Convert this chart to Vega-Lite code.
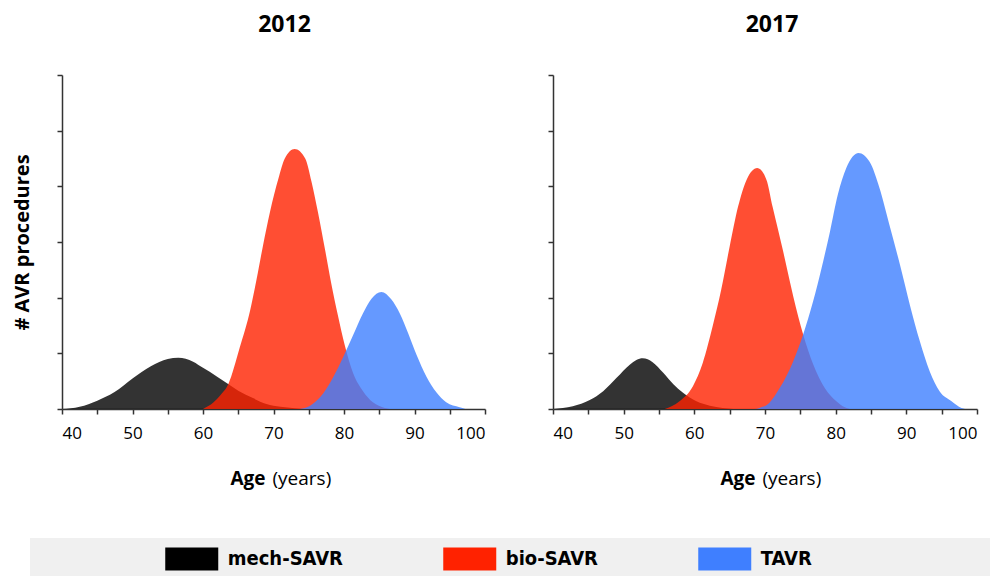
{
"$schema": "https://vega.github.io/schema/vega-lite/v6.json",
"background": "white",
"padding": {"left": 12, "top": 14, "right": 0, "bottom": 0},
"bounds": "flush",
"spacing": 68,
"config": {"view": {"stroke": null}, "font": "Open Sans", "axis": {"labelFont": "Open Sans", "titleFont": "Open Sans", "labelColor": "#000", "titleColor": "#000", "grid": false}},
"data": {"values": [
{"year":"2012","type":"mech-SAVR","age":40,"count":0},
{"year":"2012","type":"mech-SAVR","age":42.5,"count":0.04},
{"year":"2012","type":"mech-SAVR","age":45,"count":0.15},
{"year":"2012","type":"mech-SAVR","age":47.4,"count":0.3},
{"year":"2012","type":"mech-SAVR","age":50,"count":0.55},
{"year":"2012","type":"mech-SAVR","age":52.6,"count":0.77},
{"year":"2012","type":"mech-SAVR","age":55,"count":0.9},
{"year":"2012","type":"mech-SAVR","age":56.5,"count":0.92},
{"year":"2012","type":"mech-SAVR","age":58.6,"count":0.85},
{"year":"2012","type":"mech-SAVR","age":60,"count":0.74},
{"year":"2012","type":"mech-SAVR","age":61.9,"count":0.59},
{"year":"2012","type":"mech-SAVR","age":63.3,"count":0.47},
{"year":"2012","type":"mech-SAVR","age":65,"count":0.33},
{"year":"2012","type":"mech-SAVR","age":67,"count":0.2},
{"year":"2012","type":"mech-SAVR","age":69,"count":0.09},
{"year":"2012","type":"mech-SAVR","age":71,"count":0.04},
{"year":"2012","type":"mech-SAVR","age":73,"count":0.015},
{"year":"2012","type":"mech-SAVR","age":74.5,"count":0},
{"year":"2012","type":"bio-SAVR","age":60,"count":0},
{"year":"2012","type":"bio-SAVR","age":61.5,"count":0.12},
{"year":"2012","type":"bio-SAVR","age":62.4,"count":0.24},
{"year":"2012","type":"bio-SAVR","age":63.6,"count":0.45},
{"year":"2012","type":"bio-SAVR","age":65.2,"count":1.1},
{"year":"2012","type":"bio-SAVR","age":66.7,"count":1.78},
{"year":"2012","type":"bio-SAVR","age":67.6,"count":2.33},
{"year":"2012","type":"bio-SAVR","age":68.5,"count":2.93},
{"year":"2012","type":"bio-SAVR","age":69.5,"count":3.54},
{"year":"2012","type":"bio-SAVR","age":70.7,"count":4.14},
{"year":"2012","type":"bio-SAVR","age":71.6,"count":4.5},
{"year":"2012","type":"bio-SAVR","age":73,"count":4.67},
{"year":"2012","type":"bio-SAVR","age":74.5,"count":4.5},
{"year":"2012","type":"bio-SAVR","age":75.4,"count":4.08},
{"year":"2012","type":"bio-SAVR","age":76.3,"count":3.54},
{"year":"2012","type":"bio-SAVR","age":77.3,"count":2.87},
{"year":"2012","type":"bio-SAVR","age":78.2,"count":2.25},
{"year":"2012","type":"bio-SAVR","age":79.1,"count":1.7},
{"year":"2012","type":"bio-SAVR","age":80.1,"count":1.15},
{"year":"2012","type":"bio-SAVR","age":81.3,"count":0.64},
{"year":"2012","type":"bio-SAVR","age":82.7,"count":0.32},
{"year":"2012","type":"bio-SAVR","age":84.1,"count":0.12},
{"year":"2012","type":"bio-SAVR","age":85.8,"count":0.02},
{"year":"2012","type":"bio-SAVR","age":86.5,"count":0},
{"year":"2012","type":"TAVR","age":73.7,"count":0},
{"year":"2012","type":"TAVR","age":75.2,"count":0.06},
{"year":"2012","type":"TAVR","age":76.6,"count":0.21},
{"year":"2012","type":"TAVR","age":78.5,"count":0.58},
{"year":"2012","type":"TAVR","age":79.9,"count":0.94},
{"year":"2012","type":"TAVR","age":81.3,"count":1.33},
{"year":"2012","type":"TAVR","age":82.7,"count":1.72},
{"year":"2012","type":"TAVR","age":83.9,"count":1.98},
{"year":"2012","type":"TAVR","age":85.3,"count":2.1},
{"year":"2012","type":"TAVR","age":86.7,"count":1.97},
{"year":"2012","type":"TAVR","age":87.9,"count":1.72},
{"year":"2012","type":"TAVR","age":89.1,"count":1.36},
{"year":"2012","type":"TAVR","age":90.3,"count":0.97},
{"year":"2012","type":"TAVR","age":91.7,"count":0.58},
{"year":"2012","type":"TAVR","age":93.1,"count":0.3},
{"year":"2012","type":"TAVR","age":94.5,"count":0.12},
{"year":"2012","type":"TAVR","age":96.4,"count":0.03},
{"year":"2012","type":"TAVR","age":97.2,"count":0},
{"year":"2017","type":"mech-SAVR","age":40,"count":0},
{"year":"2017","type":"mech-SAVR","age":42.8,"count":0.05},
{"year":"2017","type":"mech-SAVR","age":45.2,"count":0.16},
{"year":"2017","type":"mech-SAVR","age":47.1,"count":0.32},
{"year":"2017","type":"mech-SAVR","age":49,"count":0.56},
{"year":"2017","type":"mech-SAVR","age":50.9,"count":0.8},
{"year":"2017","type":"mech-SAVR","age":51.8,"count":0.88},
{"year":"2017","type":"mech-SAVR","age":52.7,"count":0.91},
{"year":"2017","type":"mech-SAVR","age":54.1,"count":0.84},
{"year":"2017","type":"mech-SAVR","age":55.6,"count":0.65},
{"year":"2017","type":"mech-SAVR","age":57,"count":0.45},
{"year":"2017","type":"mech-SAVR","age":58.4,"count":0.29},
{"year":"2017","type":"mech-SAVR","age":60.3,"count":0.14},
{"year":"2017","type":"mech-SAVR","age":62.2,"count":0.06},
{"year":"2017","type":"mech-SAVR","age":64,"count":0.02},
{"year":"2017","type":"mech-SAVR","age":65.5,"count":0},
{"year":"2017","type":"bio-SAVR","age":55.8,"count":0},
{"year":"2017","type":"bio-SAVR","age":57.9,"count":0.14},
{"year":"2017","type":"bio-SAVR","age":59.8,"count":0.41},
{"year":"2017","type":"bio-SAVR","age":61.2,"count":0.83},
{"year":"2017","type":"bio-SAVR","age":62.6,"count":1.49},
{"year":"2017","type":"bio-SAVR","age":63.8,"count":2.14},
{"year":"2017","type":"bio-SAVR","age":65,"count":2.92},
{"year":"2017","type":"bio-SAVR","age":66.2,"count":3.64},
{"year":"2017","type":"bio-SAVR","age":67.4,"count":4.12},
{"year":"2017","type":"bio-SAVR","age":68.9,"count":4.33},
{"year":"2017","type":"bio-SAVR","age":70.2,"count":4.12},
{"year":"2017","type":"bio-SAVR","age":71.1,"count":3.62},
{"year":"2017","type":"bio-SAVR","age":72.5,"count":2.87},
{"year":"2017","type":"bio-SAVR","age":73.5,"count":2.3},
{"year":"2017","type":"bio-SAVR","age":74,"count":2.02},
{"year":"2017","type":"bio-SAVR","age":75.4,"count":1.34},
{"year":"2017","type":"bio-SAVR","age":76.8,"count":0.81},
{"year":"2017","type":"bio-SAVR","age":78.5,"count":0.37},
{"year":"2017","type":"bio-SAVR","age":80.1,"count":0.14},
{"year":"2017","type":"bio-SAVR","age":81.3,"count":0.03},
{"year":"2017","type":"bio-SAVR","age":82,"count":0},
{"year":"2017","type":"TAVR","age":68.5,"count":0},
{"year":"2017","type":"TAVR","age":69.2,"count":0.02},
{"year":"2017","type":"TAVR","age":70.6,"count":0.11},
{"year":"2017","type":"TAVR","age":72.1,"count":0.38},
{"year":"2017","type":"TAVR","age":74,"count":0.86},
{"year":"2017","type":"TAVR","age":75.4,"count":1.34},
{"year":"2017","type":"TAVR","age":76.8,"count":1.93},
{"year":"2017","type":"TAVR","age":78,"count":2.53},
{"year":"2017","type":"TAVR","age":79.2,"count":3.19},
{"year":"2017","type":"TAVR","age":80.3,"count":3.85},
{"year":"2017","type":"TAVR","age":81.5,"count":4.33},
{"year":"2017","type":"TAVR","age":83.25,"count":4.6},
{"year":"2017","type":"TAVR","age":84.8,"count":4.44},
{"year":"2017","type":"TAVR","age":86.2,"count":3.97},
{"year":"2017","type":"TAVR","age":87.6,"count":3.31},
{"year":"2017","type":"TAVR","age":89.1,"count":2.59},
{"year":"2017","type":"TAVR","age":90.5,"count":1.87},
{"year":"2017","type":"TAVR","age":91.9,"count":1.22},
{"year":"2017","type":"TAVR","age":93.3,"count":0.68},
{"year":"2017","type":"TAVR","age":94.7,"count":0.32},
{"year":"2017","type":"TAVR","age":96.4,"count":0.14},
{"year":"2017","type":"TAVR","age":97.8,"count":0.02},
{"year":"2017","type":"TAVR","age":98.3,"count":0}
]},
"hconcat": [
{
"width": 423, "height": 334,
"title": {"text": "2012", "fontSize": 23, "fontWeight": "bold", "font": "Open Sans", "color": "#000", "baseline": "alphabetic", "offset": 19, "dx": 11},
"transform": [{"filter": "datum.year == '2012'"}],
"encoding": {
"y": {"field": "count", "type": "quantitative", "stack": null, "scale": {"domain": [0, 6], "nice": false},
 "axis": {"values": [0,1,2,3,4,5,6], "labels": false, "title": "# AVR procedures", "titleFontSize": 20, "titleFontWeight": "bold", "titlePadding": 24, "tickSize": 5, "domainColor": "#333", "tickColor": "#333", "domainWidth": 1.5, "tickWidth": 1.5}},
"color": {"field": "type", "type": "nominal", "scale": {"domain": ["mech-SAVR","bio-SAVR","TAVR"], "range": ["#000000","#ff2200","#3f7fff"]},
 "legend": {"orient": "none", "legendX": -32, "legendY": 463, "direction": "horizontal", "title": "\u00a0", "titleOrient": "left", "titlePadding": 128, "titleFontSize": 8, "fillColor": "#f0f0f0", "padding": 7, "symbolType": "M-2,-0.868H2V0.868H-2Z", "symbolSize": 702.25, "symbolOffset": 13.25, "symbolOpacity": 1, "symbolStrokeWidth": 0, "labelFont": "DejaVu Sans Condensed, DejaVu Sans, sans-serif", "labelFontSize": 20, "labelFontWeight": "bold", "labelColor": "#000", "labelOffset": 22.5, "columnPadding": 100, "labelLimit": 400, "labelExpr": "datum.label === 'TAVR' ? pad(datum.label, 32, '\u00a0') + '\u200b' : datum.label"}}
},
"layer": [
{"transform": [{"filter": "datum.type == 'mech-SAVR'"}], "mark": {"type": "area", "interpolate": "monotone", "opacity": 0.8},
 "encoding": {"x": {"field": "age", "type": "quantitative", "scale": {"domain": [40, 100], "nice": false},
  "axis": {"orient": "bottom", "values": [40,45,50,55,60,65,70,75,80,85,90,95,100], "labelExpr": "datum.value % 10 === 0 ? datum.label : ''", "labelFontSize": 17, "labelPadding": 11, "tickSize": 5, "domainColor": "#333", "tickColor": "#333", "domainWidth": 1.5, "tickWidth": 1.5, "title": "Age", "titleFontSize": 19, "titleFontWeight": "bold", "titleAlign": "left", "titleAnchor": "start", "titleBaseline": "alphabetic", "titleX": 168, "titleY": 75}}}},
{"transform": [{"filter": "datum.type == 'bio-SAVR'"}], "mark": {"type": "area", "interpolate": "monotone", "opacity": 0.8},
 "encoding": {"x": {"field": "age", "type": "quantitative", "scale": {"domain": [40, 100], "nice": false},
  "axis": {"orient": "bottom", "domain": false, "ticks": false, "labels": false, "title": "(years)", "titleFontSize": 19, "titleFontWeight": "normal", "titleAlign": "left", "titleAnchor": "start", "titleBaseline": "alphabetic", "titleX": 210, "titleY": 75}}}},
{"transform": [{"filter": "datum.type == 'TAVR'"}], "mark": {"type": "area", "interpolate": "monotone", "opacity": 0.8},
 "encoding": {"x": {"field": "age", "type": "quantitative", "scale": {"domain": [40, 100], "nice": false}, "axis": null}}}
],
"resolve": {"axis": {"x": "independent"}}
},
{
"width": 424, "height": 334,
"title": {"text": "2017", "fontSize": 23, "fontWeight": "bold", "font": "Open Sans", "color": "#000", "baseline": "alphabetic", "offset": 19, "dx": 7},
"transform": [{"filter": "datum.year == '2017'"}],
"encoding": {
"y": {"field": "count", "type": "quantitative", "stack": null, "scale": {"domain": [0, 6], "nice": false},
 "axis": {"values": [0,1,2,3,4,5,6], "labels": false, "title": null, "tickSize": 5, "domainColor": "#333", "tickColor": "#333", "domainWidth": 1.5, "tickWidth": 1.5}},
"color": {"field": "type", "type": "nominal", "scale": {"domain": ["mech-SAVR","bio-SAVR","TAVR"], "range": ["#000000","#ff2200","#3f7fff"]},
 "legend": {"orient": "none", "legendX": -32, "legendY": 463, "direction": "horizontal", "title": "\u00a0", "titleOrient": "left", "titlePadding": 128, "titleFontSize": 8, "fillColor": "#f0f0f0", "padding": 7, "symbolType": "M-2,-0.868H2V0.868H-2Z", "symbolSize": 702.25, "symbolOffset": 13.25, "symbolOpacity": 1, "symbolStrokeWidth": 0, "labelFont": "DejaVu Sans Condensed, DejaVu Sans, sans-serif", "labelFontSize": 20, "labelFontWeight": "bold", "labelColor": "#000", "labelOffset": 22.5, "columnPadding": 100, "labelLimit": 400, "labelExpr": "datum.label === 'TAVR' ? pad(datum.label, 32, '\u00a0') + '\u200b' : datum.label"}}
},
"layer": [
{"transform": [{"filter": "datum.type == 'mech-SAVR'"}], "mark": {"type": "area", "interpolate": "monotone", "opacity": 0.8},
 "encoding": {"x": {"field": "age", "type": "quantitative", "scale": {"domain": [40, 100], "nice": false},
  "axis": {"orient": "bottom", "values": [40,45,50,55,60,65,70,75,80,85,90,95,100], "labelExpr": "datum.value % 10 === 0 ? datum.label : ''", "labelFontSize": 17, "labelPadding": 11, "tickSize": 5, "domainColor": "#333", "tickColor": "#333", "domainWidth": 1.5, "tickWidth": 1.5, "title": "Age", "titleFontSize": 19, "titleFontWeight": "bold", "titleAlign": "left", "titleAnchor": "start", "titleBaseline": "alphabetic", "titleX": 167, "titleY": 75}}}},
{"transform": [{"filter": "datum.type == 'bio-SAVR'"}], "mark": {"type": "area", "interpolate": "monotone", "opacity": 0.8},
 "encoding": {"x": {"field": "age", "type": "quantitative", "scale": {"domain": [40, 100], "nice": false},
  "axis": {"orient": "bottom", "domain": false, "ticks": false, "labels": false, "title": "(years)", "titleFontSize": 19, "titleFontWeight": "normal", "titleAlign": "left", "titleAnchor": "start", "titleBaseline": "alphabetic", "titleX": 209, "titleY": 75}}}},
{"transform": [{"filter": "datum.type == 'TAVR'"}], "mark": {"type": "area", "interpolate": "monotone", "opacity": 0.8},
 "encoding": {"x": {"field": "age", "type": "quantitative", "scale": {"domain": [40, 100], "nice": false}, "axis": null}}}
],
"resolve": {"axis": {"x": "independent"}}
}
]
}
